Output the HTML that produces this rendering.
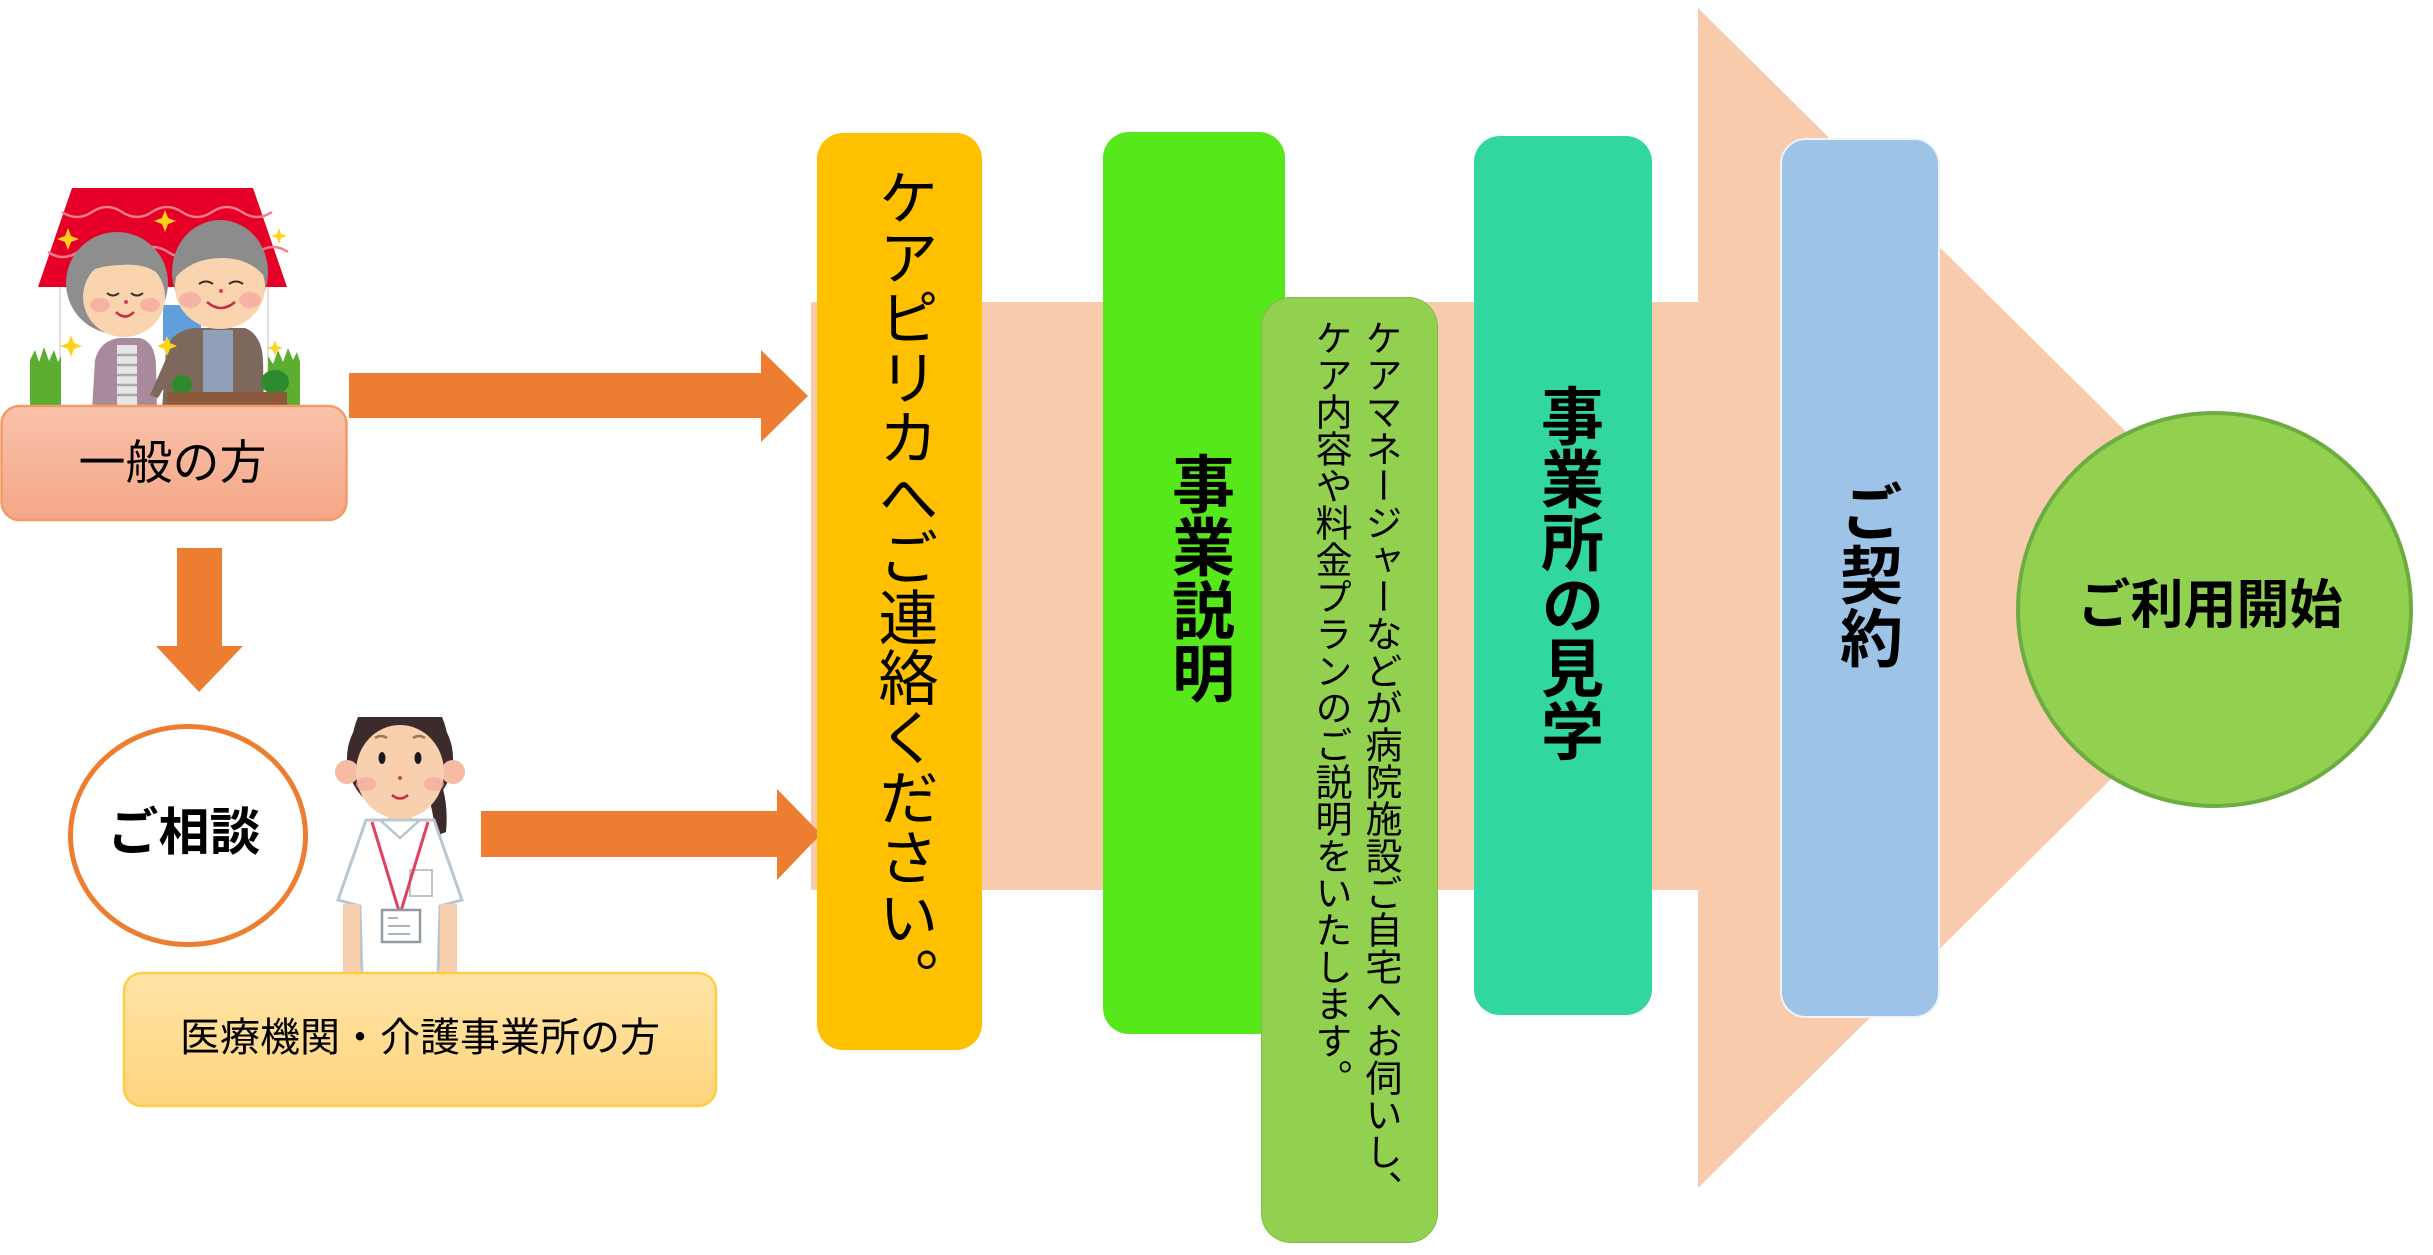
<!DOCTYPE html>
<html lang="ja">
<head>
<meta charset="utf-8">
<style>
  html,body{margin:0;padding:0;background:#fff;}
  body{width:2433px;height:1255px;position:relative;overflow:hidden;
       font-family:"Liberation Sans","Noto Sans CJK JP",sans-serif;color:#000;}
  .abs{position:absolute;}
  .box{position:absolute;box-sizing:border-box;}
  .vt{position:absolute;writing-mode:vertical-rl;white-space:nowrap;
      font-family:"Liberation Sans","Noto Sans CJK JP",sans-serif;color:#000;}
  .ht{position:absolute;white-space:nowrap;text-align:center;
      font-family:"Liberation Sans","Noto Sans CJK JP",sans-serif;color:#000;}
</style>
</head>
<body>

<!-- base shapes -->
<svg class="abs" style="left:0;top:0" width="2433" height="1255" viewBox="0 0 2433 1255" xmlns="http://www.w3.org/2000/svg">
  <defs>
    <linearGradient id="salmon" x1="0" y1="0" x2="0" y2="1">
      <stop offset="0" stop-color="#f9c2aa"/>
      <stop offset="1" stop-color="#f4a787"/>
    </linearGradient>
    <linearGradient id="yel" x1="0" y1="0" x2="0" y2="1">
      <stop offset="0" stop-color="#ffe4a6"/>
      <stop offset="1" stop-color="#ffd57e"/>
    </linearGradient>
    <clipPath id="nurseclip"><rect x="330" y="717" width="140" height="262"/></clipPath>
  </defs>

  <!-- big peach arrow -->
  <polygon points="811,302 1698,302 1698,8 2294,598 1698,1188 1698,890 811,890" fill="#f8cbad"/>

  <!-- orange connector arrows -->
  <polygon points="349,373 761,373 761,350 808,396 761,442 761,418 349,418" fill="#ed7d31"/>
  <polygon points="481,811 777,811 777,789 821,834 777,880 777,857 481,857" fill="#ed7d31"/>
  <polygon points="177,548 222,548 222,646 243,646 199,692 156,646 177,646" fill="#ed7d31"/>

  <!-- house illustration -->
  <g>
    <rect x="60" y="284" width="208" height="126" fill="#ffffff" stroke="#d8d8d8" stroke-width="1.5"/>
    <polygon points="72,188 253,188 287,287 38,287" fill="#e60027"/>
    <path d="M62 212 q15 10 30 0 t30 0 t30 0 t30 0 t30 0 t30 0 t30 0" fill="none" stroke="#f47d8d" stroke-width="2.5"/>
    <path d="M48 252 q15 10 30 0 t30 0 t30 0 t30 0 t30 0 t30 0 t30 0 t30 0" fill="none" stroke="#f47d8d" stroke-width="2.5"/>
    <rect x="163" y="305" width="38" height="36" fill="#5fa0dc"/>
    <!-- grass -->
    <polygon points="30,408 30,360 35,350 39,362 44,347 49,361 54,350 58,362 61,356 61,408" fill="#5cae30"/>
    <polygon points="268,408 268,356 273,364 278,350 283,362 288,348 293,360 297,352 300,362 300,408" fill="#5cae30"/>
    <!-- woman -->
    <ellipse cx="117" cy="283" rx="51" ry="51" fill="#8e8e8e"/>
    <path d="M92 410 L95 360 Q100 340 120 338 L140 338 Q155 342 156 365 L157 410 Z" fill="#a98a9d"/>
    <rect x="117" y="345" width="20" height="65" fill="#e6e6e6"/>
    <g stroke="#a9a9a9" stroke-width="2.5">
      <line x1="117" y1="355" x2="137" y2="355"/><line x1="117" y1="365" x2="137" y2="365"/>
      <line x1="117" y1="375" x2="137" y2="375"/><line x1="117" y1="385" x2="137" y2="385"/>
      <line x1="117" y1="395" x2="137" y2="395"/>
    </g>
    <ellipse cx="124" cy="297" rx="41" ry="40" fill="#f9d4ae"/>
    <path d="M84 275 Q100 245 140 250 Q160 258 165 280 Q150 262 120 265 Q95 266 84 275 Z" fill="#8e8e8e"/>
    <ellipse cx="100" cy="305" rx="10" ry="7" fill="#f5aaa0" opacity="0.8"/>
    <ellipse cx="150" cy="305" rx="10" ry="7" fill="#f5aaa0" opacity="0.8"/>
    <path d="M107 293 q6 5 12 0 M131 293 q6 5 12 0" stroke="#3a2a2a" stroke-width="2" fill="none"/>
    <circle cx="126" cy="302" r="2" fill="#d0405a"/>
    <path d="M116 312 q9 9 18 0" stroke="#c0304a" stroke-width="2.5" fill="none"/>
    <!-- man -->
    <ellipse cx="220" cy="272" rx="48" ry="52" fill="#8c8c8c"/>
    <path d="M162 410 L166 350 Q172 330 195 328 L245 328 Q262 335 263 360 L264 410 Z" fill="#7d685b"/>
    <rect x="203" y="330" width="30" height="80" fill="#8fa0b8"/>
    <path d="M170 350 L150 395 L158 398 L180 360 Z" fill="#7d685b"/>
    <ellipse cx="220" cy="287" rx="45" ry="42" fill="#f9d4ae"/>
    <path d="M175 278 Q185 235 222 233 Q258 235 266 278 Q250 258 222 258 Q192 258 175 278 Z" fill="#8c8c8c"/>
    <ellipse cx="190" cy="300" rx="11" ry="8" fill="#f5aaa0" opacity="0.8"/>
    <ellipse cx="250" cy="300" rx="11" ry="8" fill="#f5aaa0" opacity="0.8"/>
    <path d="M199 284 q7 -5 14 0 M229 284 q7 -5 14 0" stroke="#3a2a2a" stroke-width="2" fill="none"/>
    <circle cx="221" cy="291" r="2" fill="#d0405a"/>
    <path d="M207 302 q14 12 28 0" stroke="#c0304a" stroke-width="2.5" fill="none"/>
    <!-- planter -->
    <ellipse cx="182" cy="385" rx="10" ry="10" fill="#2e8a2e"/>
    <ellipse cx="275" cy="382" rx="14" ry="12" fill="#2e8a2e"/>
    <rect x="167" y="392" width="120" height="18" fill="#8b5a3c"/>
    <!-- stars -->
    <g fill="#ffd21a">
      <path d="M68 228 l3 8 8 3 -8 3 -3 8 -3 -8 -8 -3 8 -3z"/>
      <path d="M165 210 l3 8 8 3 -8 3 -3 8 -3 -8 -8 -3 8 -3z"/>
      <path d="M279 228 l2 6 6 2 -6 2 -2 6 -2 -6 -6 -2 6 -2z"/>
      <path d="M71 335 l3 8 8 3 -8 3 -3 8 -3 -8 -8 -3 8 -3z"/>
      <path d="M167 336 l3 7 7 3 -7 3 -3 7 -3 -7 -7 -3 7 -3z"/>
      <path d="M275 340 l2 6 6 2 -6 2 -2 6 -2 -6 -6 -2 6 -2z"/>
    </g>
  </g>

  <!-- 一般の方 box -->
  <rect x="1.5" y="406" width="345" height="114" rx="18" ry="18" fill="url(#salmon)" stroke="#f19c68" stroke-width="2.5"/>

  <!-- ご相談 circle -->
  <ellipse cx="188" cy="835.5" rx="117.5" ry="109" fill="#ffffff" stroke="#ed7d31" stroke-width="5"/>

  <!-- nurse illustration -->
  <g clip-path="url(#nurseclip)">
    <path d="M430 760 Q450 790 446 832 L436 836 Q432 800 420 770 Z" fill="#3b2b2b"/>
    <ellipse cx="400" cy="758" rx="53" ry="55" fill="#3b2b2b"/>
    <rect x="388" y="810" width="24" height="20" fill="#f9c9a3"/>
    <path d="M366 820 L338 900 L360 906 L362 979 L438 979 L440 906 L462 900 L434 820 Z" fill="#ffffff" stroke="#b9c6cf" stroke-width="3"/>
    <rect x="343" y="904" width="17" height="75" fill="#f9d0ad"/>
    <rect x="440" y="904" width="17" height="75" fill="#f9d0ad"/>
    <path d="M380 820 L400 838 L420 820" fill="none" stroke="#b9c6cf" stroke-width="2.5"/>
    <rect x="410" y="870" width="22" height="26" fill="none" stroke="#b9c6cf" stroke-width="2"/>
    <line x1="372" y1="822" x2="399" y2="911" stroke="#e0405e" stroke-width="3"/>
    <line x1="428" y1="822" x2="401" y2="911" stroke="#e0405e" stroke-width="3"/>
    <rect x="382" y="910" width="38" height="32" fill="#ffffff" stroke="#8f9aa3" stroke-width="2.5"/>
    <g stroke="#8f9aa3" stroke-width="1.5"><line x1="388" y1="918" x2="398" y2="918"/><line x1="388" y1="926" x2="410" y2="926"/><line x1="388" y1="934" x2="410" y2="934"/></g>
    <circle cx="347" cy="772" r="12" fill="#f6bba2"/>
    <circle cx="453" cy="772" r="12" fill="#f6bba2"/>
    <ellipse cx="400" cy="772" rx="44" ry="47" fill="#f9d0ad"/>
    <path d="M356 760 Q358 720 372 717 L358 717 Q348 740 356 760 Z" fill="#3b2b2b"/>
    <path d="M444 760 Q442 720 428 717 L442 717 Q452 740 444 760 Z" fill="#3b2b2b"/>
    <ellipse cx="366" cy="784" rx="10" ry="7" fill="#f5aaa0" opacity="0.7"/>
    <ellipse cx="434" cy="784" rx="10" ry="7" fill="#f5aaa0" opacity="0.7"/>
    <path d="M375 738 q6 -4 12 0 M413 738 q6 -4 12 0" stroke="#9a7a50" stroke-width="2.5" fill="none"/>
    <ellipse cx="382" cy="758" rx="3.5" ry="6" fill="#1a1a1a"/>
    <ellipse cx="418" cy="758" rx="3.5" ry="6" fill="#1a1a1a"/>
    <circle cx="400" cy="778" r="2" fill="#d0405a"/>
    <path d="M392 795 q8 7 16 0" stroke="#c0304a" stroke-width="2.5" fill="none"/>
  </g>

  <!-- 医療機関 box -->
  <rect x="124" y="973" width="592" height="133" rx="18" ry="18" fill="url(#yel)" stroke="#ffcd45" stroke-width="2.5"/>

  <!-- ご利用開始 circle -->
  <circle cx="2214.5" cy="609.5" r="196.5" fill="#92d050" stroke="#6cac40" stroke-width="4"/>
</svg>

<!-- horizontal labels -->
<div class="ht" style="left:0;top:433px;width:345px;font-size:47px;line-height:60px;">一般の方</div>
<div class="ht" style="left:84px;top:803px;width:200px;font-size:51px;line-height:60px;font-weight:bold;">ご相談</div>
<div class="ht" style="left:124px;top:1013px;width:592px;font-size:40px;line-height:50px;">医療機関・介護事業所の方</div>
<div class="ht" style="left:2060px;top:573px;width:300px;font-size:53px;line-height:66px;font-weight:bold;">ご利用開始</div>

<!-- vertical boxes -->
<div class="box" style="left:817px;top:133px;width:165px;height:917px;background:#ffc000;border-radius:26px;"></div>
<div class="vt" style="left:873px;top:167px;font-size:60px;line-height:60px;">ケアピリカへご連絡ください。</div>

<div class="box" style="left:1103px;top:132px;width:182px;height:902px;background:#56e81b;border-radius:26px;"></div>
<div class="vt" style="left:1166px;top:452px;font-size:63px;line-height:63px;font-weight:bold;">事業説明</div>

<div class="box" style="left:1261px;top:297px;width:177px;height:946px;background:#92d050;border:1.5px solid #7fba48;border-radius:30px;"></div>
<div class="vt" style="left:1305px;top:319px;font-size:37px;line-height:50px;">ケアマネージャーなどが病院施設ご自宅へお伺いし、<br>ケア内容や料金プランのご説明をいたします。</div>

<div class="box" style="left:1474px;top:136px;width:178px;height:879px;background:#31d6a0;border-radius:26px;"></div>
<div class="vt" style="left:1535px;top:384px;font-size:63px;line-height:63px;font-weight:bold;">事業所の見学</div>

<div class="box" style="left:1780px;top:138px;width:160px;height:880px;background:#9dc3e6;border:2px solid #eef4fa;border-radius:26px;"></div>
<div class="vt" style="left:1834px;top:480px;font-size:63px;line-height:63px;font-weight:bold;">ご契約</div>

</body>
</html>
